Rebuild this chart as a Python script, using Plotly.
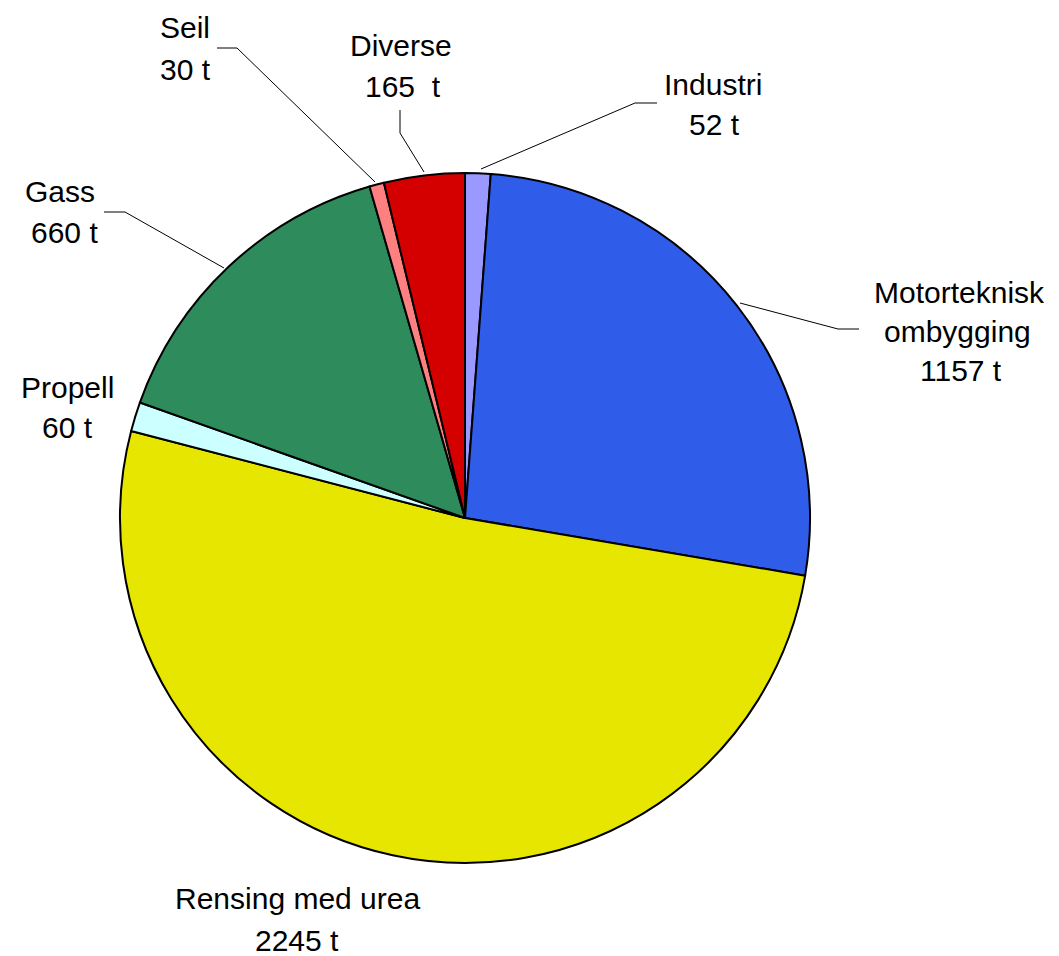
import plotly.graph_objects as go

# ---- data ----
categories = ["Industri", "Motorteknisk ombygging", "Rensing med urea", "Propell", "Gass", "Seil", "Diverse"]
values = [52, 1157, 2245, 60, 660, 30, 165]
colors = ["#9999ff", "#2f5ce8", "#e6e600", "#ccffff", "#2e8b5c", "#ff8080", "#d40000"]

# label text lines
label_lines = {
    "Industri": ["Industri", "52 t"],
    "Motorteknisk ombygging": ["Motorteknisk", "ombygging", "1157 t"],
    "Rensing med urea": ["Rensing med urea", "2245 t"],
    "Propell": ["Propell", "60 t"],
    "Gass": ["Gass", "660 t"],
    "Seil": ["Seil", "30 t"],
    "Diverse": ["Diverse", "165  t"],
}

# The page body has an 8px margin, so the figure is made 8px smaller and
# all placement coordinates below are given in screenshot pixels.
OFF = 8
W, H = 1059 - OFF, 956 - OFF
cx, cy, r = 465, 518, 345


def px(x):
    return (x - OFF) / W


def py(y):
    return 1 - (y - OFF) / H


fig = go.Figure(go.Pie(
    labels=categories,
    values=values,
    sort=False,
    direction="clockwise",
    rotation=0,
    marker=dict(colors=colors, line=dict(color="black", width=2)),
    textinfo="none",
    hoverinfo="label+value",
    domain=dict(x=[px(cx - r), px(cx + r)], y=[py(cy + r), py(cy - r)]),
    showlegend=False,
))

# label placements (line centres, screenshot pixel coordinates)
label_pos = {
    "Industri": [(713, 85), (714, 125)],
    "Motorteknisk ombygging": [(959, 292), (957, 331), (961, 370)],
    "Rensing med urea": [(297, 898), (297, 940)],
    "Propell": [(67, 387), (67, 428)],
    "Gass": [(60, 192), (64, 233)],
    "Seil": [(185, 28), (185, 70)],
    "Diverse": [(401, 45), (403, 86)],
}

annotations = []
for cat in categories:
    for txt, (x, y) in zip(label_lines[cat], label_pos[cat]):
        annotations.append(dict(
            x=px(x), y=py(y), xref="paper", yref="paper",
            text=txt, showarrow=False, xanchor="center", yanchor="middle",
            font=dict(family="Liberation Sans, Arial, sans-serif", size=30, color="black"),
        ))

# leader lines (polyline points, screenshot pixels)
leaders = [
    [(657, 103), (635, 103), (481, 169)],        # Industri
    [(859, 329), (838, 329), (740, 303)],        # Motorteknisk
    [(104, 212), (125, 212), (224, 268)],        # Gass
    [(217, 48), (237, 48), (375, 182)],          # Seil
    [(400, 110), (400, 133), (424, 172)],        # Diverse
]
shapes = []
for pts in leaders:
    for (x0, y0), (x1, y1) in zip(pts[:-1], pts[1:]):
        shapes.append(dict(type="line", xref="paper", yref="paper",
                           x0=px(x0), y0=py(y0), x1=px(x1), y1=py(y1),
                           line=dict(color="black", width=1)))

fig.update_layout(
    width=W, height=H,
    margin=dict(l=0, r=0, t=0, b=0),
    paper_bgcolor="white",
    plot_bgcolor="white",
    annotations=annotations,
    shapes=shapes,
)

fig.write_html("out.html")
